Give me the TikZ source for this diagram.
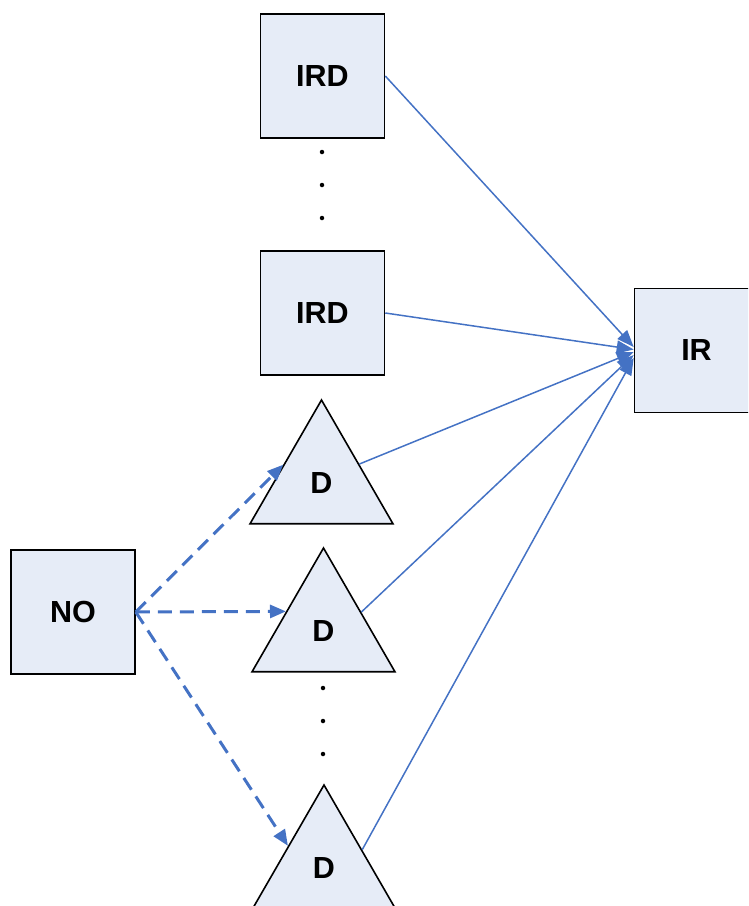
\documentclass[tikz,border=0pt]{standalone}
\usepackage{fontspec}
\setmainfont{Liberation Sans}
\usetikzlibrary{arrows.meta,shapes.geometric,calc}
\definecolor{boxfill}{HTML}{E6ECF7}
\definecolor{linkblue}{HTML}{4472C4}
\tikzset{
  sqbox/.style={draw=black, line width=1.6pt, fill=boxfill, minimum size=124pt, inner sep=0pt, font=\fontsize{30.5}{35}\selectfont\bfseries},
  tribox/.style={draw=black, line width=1.6pt, fill=boxfill, regular polygon, regular polygon sides=3, minimum size=165pt, inner sep=0pt, font=\fontsize{30.5}{35}\selectfont\bfseries},
  solidlink/.style={draw=linkblue, line width=1.5pt, -{Triangle[length=17pt,width=13pt]}},
  dashlink/.style={draw=linkblue, line width=3pt, dash pattern=on 14pt off 8pt, -{Triangle[length=16pt,width=13pt]}},
  vdot/.style={circle, fill=black, inner sep=0pt, minimum size=4.5pt}
}
\begin{document}
\begin{tikzpicture}[x=1pt,y=-1pt]
\useasboundingbox (0,0) rectangle (748,906);
\clip (0,0) rectangle (748,906);
% square nodes
\node[sqbox] (ird1) at (322.5,76) {IRD};
\node[sqbox] (ird2) at (322.5,313) {IRD};
\node[sqbox] (ir) at (696.5,350.5) {IR};
\node[sqbox] (no) at (73,612) {NO};
% triangles
\node[tribox] (t1) at (321.5,482.5) {D};
\node[tribox] (t2) at (323.5,630.5) {D};
\node[tribox] (t3) at (324,867.5) {D};
% vertical dots
\node[vdot] (da1) at (322,152) {};
\node[vdot] (da2) at (322,185) {};
\node[vdot] (da3) at (322,218) {};
\node[vdot] (db1) at (323,688) {};
\node[vdot] (db2) at (323,721) {};
\node[vdot] (db3) at (323,754) {};
% end points on IR
\coordinate (e1) at ($(ir.west)+(0,-3.5)$);
\coordinate (e2) at ($(ir.west)+(0,-1)$);
\coordinate (e3) at ($(ir.west)+(0,1.5)$);
\coordinate (e4) at ($(ir.west)+(0,4.5)$);
\coordinate (e5) at ($(ir.west)+(0,7.5)$);
% solid connectors
\draw[solidlink] (ird1.east) -- (e1);
\draw[solidlink] (ird2.east) -- (e2);
\draw[solidlink] (t1.26) -- (e3);
\draw[solidlink] (t2.26) -- (e4);
\draw[solidlink] (t3.25) -- (e5);
% dashed connectors
\draw[dashlink] (no.east) -- (t1.155);
\draw[dashlink] (no.east) -- (t2.153);
\draw[dashlink] (no.east) -- (t3.149);
\end{tikzpicture}
\end{document}
